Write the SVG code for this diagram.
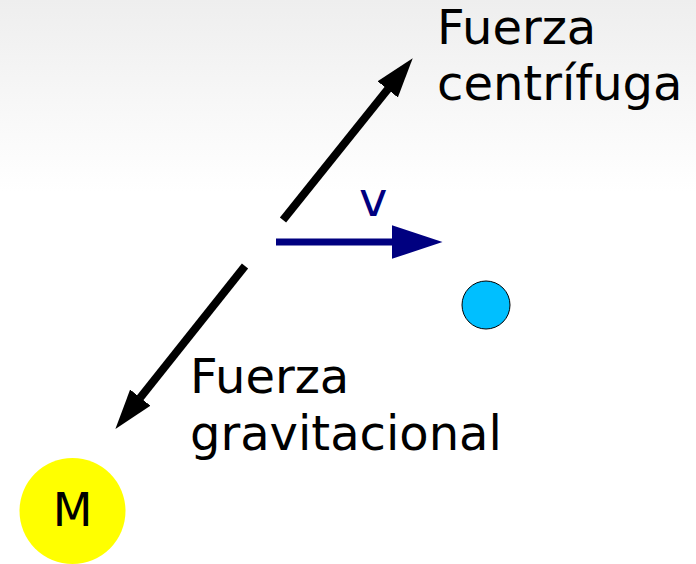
<svg xmlns="http://www.w3.org/2000/svg" width="696" height="564" viewBox="0 0 696 564">
  <defs>
    <linearGradient id="bg" x1="0" y1="0" x2="0" y2="564" gradientUnits="userSpaceOnUse">
      <stop offset="0" stop-color="#eeeeee"/>
      <stop offset="0.34" stop-color="#ffffff"/>
      <stop offset="1" stop-color="#ffffff"/>
    </linearGradient>
    <marker id="headBlack" markerUnits="userSpaceOnUse" viewBox="0 0 40 26" markerWidth="40" markerHeight="26" refX="0.5" refY="13" orient="auto">
      <path d="M0,0 L40,13 L0,26 z" fill="#000"/>
    </marker>
    <marker id="headBlue" markerUnits="userSpaceOnUse" viewBox="0 0 51 34" markerWidth="51" markerHeight="34" refX="0.5" refY="17" orient="auto">
      <path d="M0,0 L51,17 L0,34 z" fill="#000080"/>
    </marker>
    <style>
      .lbl { font-family: "DejaVu Sans", "Liberation Sans", sans-serif; font-size: 48px; fill: #000; }
      .force { stroke: #000; stroke-width: 8; fill: none; stroke-linecap: butt; marker-end: url(#headBlack); }
      .vel { stroke: #000080; stroke-width: 7; fill: none; marker-end: url(#headBlue); }
    </style>
  </defs>
  <rect x="0" y="0" width="696" height="564" fill="url(#bg)"/>

  <g id="connectors">
    <line class="force" x1="283" y1="220" x2="388" y2="89"/>
    <line class="force" x1="245" y1="266" x2="140" y2="398"/>
    <line class="vel" x1="276" y1="242" x2="392" y2="242"/>
  </g>

  <g id="label-centrifuga">
    <text class="lbl" x="437" y="44">Fuerza</text>
    <text class="lbl" x="437" y="100">centrífuga</text>
  </g>
  <g id="label-gravitacional">
    <text class="lbl" x="190" y="393">Fuerza</text>
    <text class="lbl" x="190" y="450">gravitacional</text>
  </g>
  <g id="label-v">
    <text class="lbl" x="359" y="216" style="fill:#000080">v</text>
  </g>

  <g id="body-small">
    <circle cx="486" cy="305" r="24" fill="#00bfff" stroke="#000" stroke-width="1"/>
  </g>
  <g id="body-M">
    <circle cx="72.5" cy="511" r="53" fill="#ffff00"/>
    <text class="lbl" x="72.5" y="526" text-anchor="middle" style="font-size:46px">M</text>
  </g>
</svg>
